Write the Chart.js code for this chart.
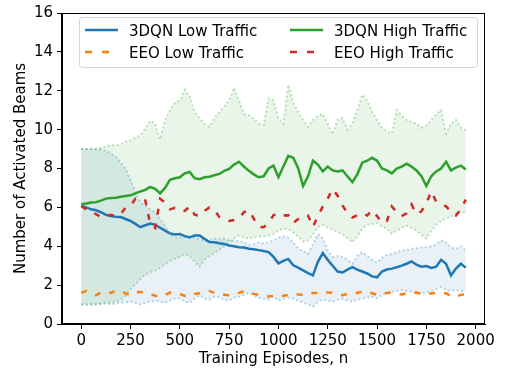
<!DOCTYPE html>
<html><head><meta charset="utf-8">
<script src="https://cdn.jsdelivr.net/npm/chart.js@4/dist/chart.umd.min.js"></script>
<style>html,body{margin:0;padding:0;background:#fff;}canvas{display:block;}</style>
</head><body>
<canvas id="c" width="505" height="369"></canvas>
<script>
const episodes = [0,25,50,75,100,125,150,175,200,225,250,275,300,325,350,375,400,425,450,475,500,525,550,575,600,625,650,675,700,725,750,775,800,825,850,875,900,925,950,975,1000,1025,1050,1075,1100,1125,1150,1175,1200,1225,1250,1275,1300,1325,1350,1375,1400,1425,1450,1475,1500,1525,1550,1575,1600,1625,1650,1675,1700,1725,1750,1775,1800,1825,1850,1875,1900,1925,1950];

const dqnLow = [6.07,6.0,5.9,5.85,5.75,5.62,5.55,5.52,5.5,5.4,
5.3,5.15,4.98,5.08,5.17,5.1,4.95,4.8,4.66,4.6,
4.63,4.52,4.46,4.55,4.55,4.38,4.22,4.2,4.15,4.12,
4.04,4.0,3.95,3.93,3.87,3.85,3.8,3.76,3.7,3.45,
3.12,3.25,3.35,3.02,2.9,2.76,2.62,2.5,3.2,3.65,
3.3,3.0,2.7,2.65,2.8,2.93,2.8,2.7,2.6,2.45,
2.4,2.7,2.8,2.85,2.92,3.0,3.1,3.22,3.05,2.95,
2.98,2.88,2.95,3.3,3.1,2.5,2.85,3.1,2.9];

const eeoLow = [1.6,1.7,1.55,1.48,1.62,1.66,1.6,1.72,1.7,1.58,
1.48,1.6,1.66,1.58,1.55,1.45,1.4,1.5,1.62,1.6,
1.55,1.45,1.42,1.55,1.58,1.68,1.7,1.6,1.52,1.5,
1.48,1.55,1.6,1.68,1.62,1.55,1.5,1.45,1.42,1.45,
1.4,1.45,1.5,1.55,1.52,1.5,1.58,1.6,1.6,1.6,
1.62,1.6,1.52,1.48,1.55,1.58,1.6,1.68,1.65,1.58,
1.5,1.52,1.6,1.62,1.55,1.52,1.58,1.6,1.62,1.55,
1.52,1.58,1.6,1.6,1.58,1.45,1.4,1.5,1.55];

const dqnHigh = [6.16,6.2,6.25,6.27,6.35,6.45,6.48,6.5,6.55,6.58,
6.62,6.72,6.82,6.9,7.05,6.95,6.72,7.0,7.42,7.5,
7.55,7.75,7.82,7.5,7.45,7.55,7.58,7.65,7.72,7.88,
7.98,8.2,8.35,8.1,7.88,7.7,7.55,7.6,8.0,8.15,
7.55,8.1,8.65,8.55,8.02,7.1,7.6,8.4,8.2,7.85,
8.1,7.9,7.85,7.9,7.6,7.3,7.7,8.3,8.4,8.55,
8.4,8.0,7.9,7.75,8.0,8.1,8.25,8.1,7.9,7.6,
7.1,7.6,7.85,8.0,8.35,7.9,8.05,8.15,7.95];

const eeoHigh = [6.07,5.9,5.75,5.65,5.5,5.55,5.62,5.55,5.65,5.99,
6.07,6.45,6.5,6.35,5.15,4.94,6.44,6.24,5.9,5.98,
5.85,5.82,6.05,5.62,5.56,5.82,6.0,5.88,5.5,5.4,
5.3,5.35,5.45,5.75,5.85,5.42,5.0,4.98,5.2,5.6,
5.7,5.58,5.6,5.2,5.4,5.55,5.58,5.0,5.55,6.05,
6.45,6.95,6.6,6.1,5.7,5.48,5.6,5.7,5.58,5.85,
5.55,5.2,5.3,6.05,5.75,5.55,5.7,6.15,5.65,5.8,
6.2,6.83,6.3,6.15,6.05,5.8,5.58,5.9,6.4];

const dqnLowUpper = [9.0,9.0,9.0,9.0,8.98,8.9,8.78,8.6,8.3,8.0,
7.4,6.8,6.25,6.1,5.9,5.78,5.4,5.05,4.6,4.45,
4.45,4.5,4.42,4.46,4.35,4.3,4.3,4.4,4.35,4.4,
4.3,4.3,4.25,4.2,4.05,4.1,4.2,4.15,4.2,4.3,
4.45,4.5,4.45,4.2,3.9,3.75,3.6,4.1,4.63,4.4,
3.8,3.45,3.5,3.45,3.3,3.1,3.5,3.7,3.5,3.3,
3.15,3.4,3.55,3.6,3.7,3.78,3.8,3.87,3.9,3.95,
3.95,4.0,4.1,4.29,4.2,3.95,3.85,4.0,3.78];

const dqnLowLower = [1.0,1.0,1.02,1.0,1.03,1.05,1.02,1.05,1.1,1.12,
1.15,1.08,1.0,1.08,1.15,1.2,1.15,1.1,1.2,1.3,
1.32,1.15,1.1,1.3,1.49,1.3,1.25,1.4,1.38,1.25,
1.2,1.35,1.4,1.5,1.6,1.45,1.35,1.3,1.25,1.4,
1.2,1.3,1.35,1.3,1.2,1.1,1.0,0.9,1.15,1.25,
1.2,1.15,1.25,1.3,1.2,1.15,1.25,1.3,1.35,1.4,
1.3,1.5,1.6,1.65,1.7,1.75,1.7,1.65,1.6,1.55,
1.62,1.7,1.8,1.91,1.75,1.7,1.75,1.7,1.7];

const dqnHighUpper = [9.0,9.0,9.0,9.0,9.05,9.15,9.2,9.2,9.25,9.38,
9.45,9.6,9.7,10.06,10.45,10.3,9.5,10.5,11.0,11.4,
11.5,12.05,11.7,10.9,10.6,10.3,10.14,10.6,10.9,11.2,
11.5,12.15,11.5,10.8,10.74,10.55,10.3,10.23,11.6,11.5,
10.6,10.3,12.3,11.4,10.9,10.5,10.14,10.5,10.7,10.8,
10.3,9.75,10.5,10.6,10.0,10.3,11.0,11.8,11.5,10.9,
10.5,10.1,9.9,9.8,11.0,10.7,10.5,10.4,10.3,10.1,
10.2,10.5,10.8,11.0,9.8,10.3,10.5,10.1,9.97];

const dqnHighLower = [1.0,1.0,1.0,1.02,1.05,1.1,1.12,1.15,1.25,1.45,
1.8,2.05,2.3,2.55,2.65,2.75,2.9,3.05,3.25,3.35,
3.45,3.6,3.5,3.2,2.95,3.3,3.5,3.65,3.8,4.0,
4.2,4.4,4.55,4.45,4.4,4.45,4.5,4.5,4.55,4.63,
4.8,4.9,4.88,4.7,4.5,4.25,4.3,4.6,4.97,5.1,
4.97,4.85,4.75,4.6,4.4,4.2,4.5,4.9,5.1,5.14,
5.2,5.0,4.9,4.63,4.8,4.95,5.05,4.95,4.8,4.6,
4.4,4.8,5.1,5.3,5.45,5.5,5.7,5.82,5.7];

const seriesLabels = ['3DQN Low Traffic', 'EEO Low Traffic', '3DQN High Traffic', 'EEO High Traffic'];
const xTicks = [0,250,500,750,1000,1250,1500,1750,2000];
const xTickLabels = ['0','250','500','750','1000','1250','1500','1750','2000'];
const yTicks = [0,2,4,6,8,10,12,14,16];
const yTickLabels = ['0','2','4','6','8','10','12','14','16'];
const xTitle = 'Training Episodes, n';
const yTitle = 'Number of Activated Beams';

const pts = arr => arr.map((v, i) => ({x: episodes[i], y: v}));
const FONT = {family: 'DejaVu Sans', size: 15};

const BLUE = '#1f77b4', ORANGE = '#ff7f0e', GREEN = '#2ca02c', RED = '#d62728';

const datasets = [
  {label: seriesLabels[0], data: pts(dqnLow), borderColor: BLUE, borderWidth: 2.5, fill: false, order: 3},
  {label: seriesLabels[1], data: pts(eeoLow), borderColor: ORANGE, borderWidth: 2.5, borderDash: [6, 9], fill: false, order: 2},
  {label: seriesLabels[2], data: pts(dqnHigh), borderColor: GREEN, borderWidth: 2.5, fill: false, order: 1},
  {label: seriesLabels[3], data: pts(eeoHigh), borderColor: RED, borderWidth: 2.5, borderDash: [6, 9], fill: false, order: 0},
  {label: 'lu', data: pts(dqnLowUpper), borderColor: 'rgba(31,119,180,0.3)', borderWidth: 2, borderDash: [2, 2.5], backgroundColor: 'rgba(31,119,180,0.1)', fill: {target: 5}, order: 7},
  {label: 'll', data: pts(dqnLowLower), borderColor: 'rgba(31,119,180,0.3)', borderWidth: 2, borderDash: [2, 2.5], fill: false, order: 6},
  {label: 'hu', data: pts(dqnHighUpper), borderColor: 'rgba(44,160,44,0.3)', borderWidth: 2, borderDash: [2, 2.5], backgroundColor: 'rgba(44,160,44,0.1)', fill: {target: 7}, order: 5},
  {label: 'hl', data: pts(dqnHighLower), borderColor: 'rgba(44,160,44,0.3)', borderWidth: 2, borderDash: [2, 2.5], fill: false, order: 4}
];

const overlay = {
  id: 'overlay',
  afterDraw(chart) {
    const ctx = chart.ctx, a = chart.chartArea;
    ctx.save();
    ctx.strokeStyle = '#000';
    ctx.lineWidth = 1;
    ctx.setLineDash([]);
    ctx.strokeRect(Math.round(a.left) - 0.5, Math.round(a.top) + 0.5, Math.round(a.right - a.left), Math.round(a.bottom - a.top) - 1);
    const bx = 79.5, by = 17.5, bw = 398, bh = 50, r = 3;
    ctx.beginPath();
    ctx.moveTo(bx + r, by);
    ctx.lineTo(bx + bw - r, by); ctx.arcTo(bx + bw, by, bx + bw, by + r, r);
    ctx.lineTo(bx + bw, by + bh - r); ctx.arcTo(bx + bw, by + bh, bx + bw - r, by + bh, r);
    ctx.lineTo(bx + r, by + bh); ctx.arcTo(bx, by + bh, bx, by + bh - r, r);
    ctx.lineTo(bx, by + r); ctx.arcTo(bx, by, bx + r, by, r);
    ctx.closePath();
    ctx.fillStyle = 'rgba(255,255,255,0.8)';
    ctx.fill();
    ctx.strokeStyle = 'rgba(204,204,204,0.8)';
    ctx.stroke();
    const items = [
      {ds: 0, lx: 85, tx: 129, y: 30, by: 35.5},
      {ds: 1, lx: 85, tx: 129, y: 52, by: 58},
      {ds: 2, lx: 290, tx: 334, y: 30, by: 35.5},
      {ds: 3, lx: 290, tx: 334, y: 52, by: 58}
    ];
    ctx.font = '15px "DejaVu Sans"';
    ctx.textBaseline = 'alphabetic';
    ctx.textAlign = 'left';
    items.forEach(it => {
      const d = chart.data.datasets[it.ds];
      ctx.strokeStyle = d.borderColor;
      ctx.lineWidth = d.borderWidth;
      ctx.lineCap = 'butt';
      ctx.setLineDash(d.borderDash ? [7, 10] : []);
      ctx.beginPath();
      ctx.moveTo(it.lx, it.y);
      ctx.lineTo(it.lx + 33, it.y);
      ctx.stroke();
      ctx.fillStyle = '#000';
      ctx.fillText(d.label, it.tx, it.by);
    });
    ctx.restore();
  }
};

const gridCfg = {drawOnChartArea: false, drawTicks: true, tickLength: 5, tickColor: '#000', lineWidth: 1};

new Chart(document.getElementById('c').getContext('2d'), {
  type: 'line',
  data: {datasets},
  options: {
    responsive: false,
    animation: false,
    devicePixelRatio: 1,
    layout: {padding: {top: 10, right: 20, left: 0, bottom: 0}},
    plugins: {legend: {display: false}, tooltip: {enabled: false}},
    elements: {point: {radius: 0}, line: {tension: 0, borderCapStyle: 'butt'}},
    scales: {
      x: {
        type: 'linear', min: -97.5, max: 2047.5,
        afterBuildTicks: s => { s.ticks = xTicks.map(v => ({value: v})); },
        afterFit: s => { s.height = 45; },
        grid: gridCfg,
        border: {display: true, color: '#000', width: 1},
        ticks: {font: FONT, color: '#000', padding: 3, maxRotation: 0, autoSkip: false, callback: (v, i) => xTickLabels[i]},
        title: {display: true, text: xTitle, font: FONT, color: '#000', padding: {top: 0, bottom: 1}}
      },
      y: {
        type: 'linear', min: 0, max: 16,
        afterBuildTicks: s => { s.ticks = yTicks.map(v => ({value: v})); },
        afterFit: s => { s.width = 62; },
        grid: gridCfg,
        border: {display: true, color: '#000', width: 1},
        ticks: {font: FONT, color: '#000', padding: 4, autoSkip: false, callback: (v, i) => yTickLabels[i]},
        title: {display: true, text: yTitle, font: FONT, color: '#000', padding: {top: 12, bottom: 0}}
      }
    }
  },
  plugins: [overlay]
});
</script>
</body></html>
